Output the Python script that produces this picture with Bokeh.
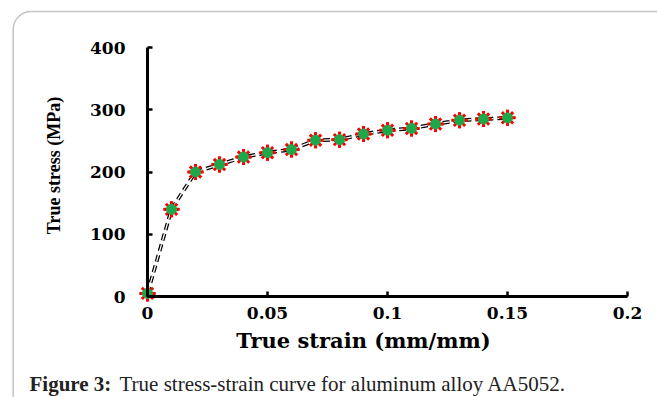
import math
from bokeh.plotting import figure
from bokeh.models import Range1d, FixedTicker, Label, BoxAnnotation, ColumnDataSource
from bokeh.embed import file_html
from bokeh.resources import INLINE

# ---- data ----
strain = [0.0, 0.01, 0.02, 0.03, 0.04, 0.05, 0.06, 0.07, 0.08, 0.09, 0.10, 0.11, 0.12, 0.13, 0.14, 0.15]
stress = [5, 140, 200, 212, 224, 231, 236, 251, 252, 261, 267, 270, 277, 283, 285, 287]

x_ticks = [0, 0.05, 0.1, 0.15, 0.2]
x_tick_labels = ["0", "0.05", "0.1", "0.15", "0.2"]
y_ticks = [0, 100, 200, 300, 400]
y_tick_labels = ["0", "100", "200", "300", "400"]

x_title = "True strain (mm/mm)"
y_title = "True stress (MPa)"
caption_bold = "Figure 3:"
caption_text = "True stress-strain curve for aluminum alloy AA5052."

# ---- layout (pixels inside the figure canvas) ----
W, H = 657, 397
X0_PX, X1_PX = 147, 627      # pixel of x=0 and x=0.2
Y0_PX, Y1_PX = 296, 47       # pixel of y=0 and y=400
PX_PER_X = (X1_PX - X0_PX) / (x_ticks[-1] - x_ticks[0])
PX_PER_Y = (Y0_PX - Y1_PX) / (y_ticks[-1] - y_ticks[0])
X_START = x_ticks[0] - X0_PX / PX_PER_X
X_END = x_ticks[-1] + (W - X1_PX) / PX_PER_X
Y_END = y_ticks[-1] + Y1_PX / PX_PER_Y
Y_START = y_ticks[0] - (H - Y0_PX) / PX_PER_Y


def dx(fx):
    return X_START + fx / PX_PER_X


def dy(fy):
    return Y_END - fy / PX_PER_Y


p = figure(width=W, height=H, output_backend="svg", toolbar_location=None,
           title=None, x_range=Range1d(X_START, X_END), y_range=Range1d(Y_START, Y_END),
           min_border=0, min_border_left=0, min_border_right=0,
           min_border_top=0, min_border_bottom=0)
p.outline_line_color = None
p.background_fill_color = "white"
p.border_fill_color = "white"
p.xgrid.visible = False
p.ygrid.visible = False

tick_font = "DejaVu Serif"
for ax in (p.xaxis[0], p.yaxis[0]):
    ax.fixed_location = 0
    ax.axis_line_width = 3
    ax.axis_line_color = "black"
    ax.major_tick_in = 5
    ax.major_tick_out = 0
    ax.major_tick_line_width = 2.5
    ax.minor_tick_line_color = None
    ax.major_label_text_font = tick_font
    ax.major_label_text_font_style = "bold"
    ax.major_label_text_font_size = "17px"
    ax.major_label_text_color = "black"

p.xaxis[0].ticker = FixedTicker(ticks=x_ticks)
p.xaxis[0].major_label_overrides = {t: l for t, l in zip(x_ticks, x_tick_labels)}
p.xaxis[0].bounds = (x_ticks[0], x_ticks[-1])
p.xaxis[0].major_label_standoff = 10

p.yaxis[0].ticker = FixedTicker(ticks=y_ticks)
p.yaxis[0].major_label_overrides = {t: l for t, l in zip(y_ticks, y_tick_labels)}
p.yaxis[0].bounds = (y_ticks[0], y_ticks[-1])
p.yaxis[0].major_label_standoff = 22

src = ColumnDataSource(data=dict(x=strain, y=stress))

# dashed "hollow" line
p.line("x", "y", source=src, line_color="black", line_width=3.8, line_dash="7 4")
p.line("x", "y", source=src, line_color="white", line_width=1.3, line_dash="7 4")

# markers: red spokes with green core
p.scatter("x", "y", source=src, marker="asterisk", size=16, line_color="red", line_width=3)
p.scatter("x", "y", source=src, marker="cross", size=16, line_color="red", line_width=2.5)
p.scatter("x", "y", source=src, marker="circle", size=10, fill_color="#1fa84a",
          line_color="#1fa84a")

# axis titles
p.add_layout(Label(x=dx(363), y=dy(340), text=x_title, text_align="center",
                   text_baseline="middle", text_font="DejaVu Serif",
                   text_font_style="bold", text_font_size="21px", text_color="black"))
p.add_layout(Label(x=dx(53), y=dy(165), text=y_title, text_align="center",
                   text_baseline="middle", angle=math.pi / 2, text_font="Liberation Serif",
                   text_font_style="bold", text_font_size="18px", text_color="black"))

# caption
p.add_layout(Label(x=dx(29), y=dy(383), text=caption_bold, text_align="left",
                   text_baseline="alphabetic", text_font="Liberation Serif",
                   text_font_style="bold", text_font_size="21px", text_color="#222222"))
p.add_layout(Label(x=dx(119), y=dy(383), text=caption_text, text_align="left",
                   text_baseline="alphabetic", text_font="Liberation Serif",
                   text_font_size="21px", text_color="#222222"))

# rounded frame
p.add_layout(BoxAnnotation(left=dx(12.7), top=dy(11), right=dx(W + 60), bottom=dy(H + 60),
                           fill_alpha=0, line_color="#3a3a3a", line_width=1.5,
                           border_radius=18))

open("out.html", "w").write(file_html(p, INLINE))
